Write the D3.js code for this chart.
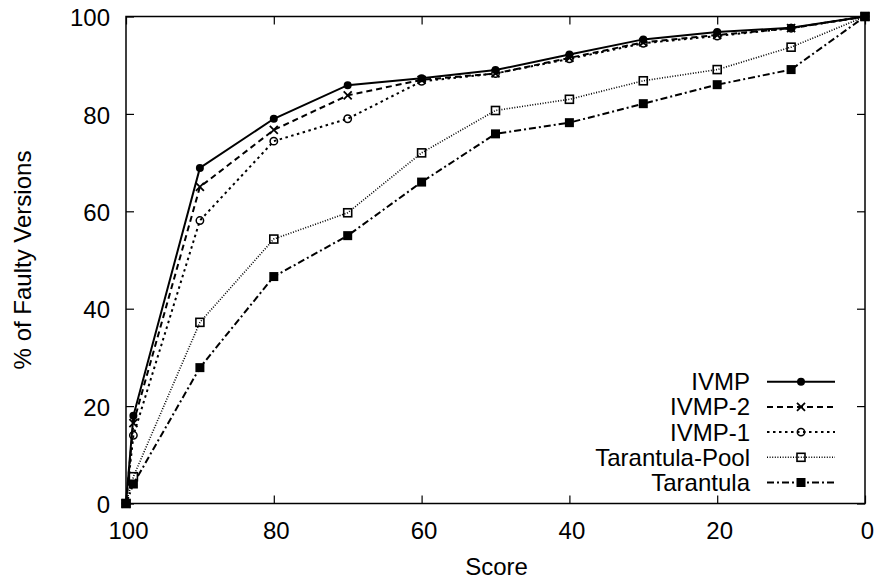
<!DOCTYPE html>
<html>
<head>
<meta charset="utf-8">
<script src="https://cdn.jsdelivr.net/npm/d3@7"></script>
<style>
  html, body { margin: 0; padding: 0; background: #fff; }
  svg text { font-family: "Liberation Sans", Arial, Helvetica, sans-serif; fill: #000; }
</style>
</head>
<body>
<svg id="chart" width="877" height="581"></svg>
<script>
// ---- data ----
const scores = [100, 99, 90, 80, 70, 60, 50, 40, 30, 20, 10, 0];
const ivmp          = [0, 18.0, 68.9, 79.0, 85.9, 87.3, 89.0, 92.2, 95.3, 96.8, 97.7, 100];
const ivmp2         = [0, 16.5, 65.0, 76.7, 83.8, 87.0, 88.3, 91.5, 94.7, 96.2, 97.6, 100];
const ivmp1         = [0, 14.0, 58.1, 74.4, 79.0, 86.7, 88.3, 91.3, 94.5, 96.0, 97.6, 100];
const tarantulaPool = [0, 5.5, 37.2, 54.3, 59.7, 72.0, 80.7, 83.0, 86.8, 89.1, 93.7, 100];
const tarantula     = [0, 4.0, 27.9, 46.6, 55.0, 66.0, 75.9, 78.2, 82.1, 86.0, 89.1, 100];
const seriesNames = ["IVMP", "IVMP-2", "IVMP-1", "Tarantula-Pool", "Tarantula"];
const xTicks = [100, 80, 60, 40, 20, 0];
const yTicks = [0, 20, 40, 60, 80, 100];

const seriesValues = [ivmp, ivmp2, ivmp1, tarantulaPool, tarantula];
const styles = [
  { dash: null,        width: 2,   marker: "fcircle" },
  { dash: "6,4",       width: 2,   marker: "cross" },
  { dash: "2.5,3.5",   width: 2,   marker: "ocircle" },
  { dash: "1,1.6",     width: 1.6, marker: "osquare" },
  { dash: "7,3,2,3",   width: 2,   marker: "fsquare" }
];

const svg = d3.select("#chart");
const L = 126, R = 865, T = 16.5, B = 503.5;
const x = d3.scaleLinear().domain([100, 0]).range([L, R]);
const y = d3.scaleLinear().domain([0, 100]).range([B, T]);
const FS = 24;

// axes (ticks inward, mirrored)
const gB = svg.append("g").attr("transform", `translate(0,${B})`)
  .call(d3.axisBottom(x).tickValues(xTicks).tickSize(-8).tickPadding(18).tickFormat(d3.format("d")));
const gL = svg.append("g").attr("transform", `translate(${L},0)`)
  .call(d3.axisLeft(y).tickValues(yTicks).tickSize(-8).tickPadding(16).tickFormat(d3.format("d")));
const gT = svg.append("g").attr("transform", `translate(0,${T})`)
  .call(d3.axisTop(x).tickValues(xTicks).tickSize(-8).tickFormat(""));
const gR = svg.append("g").attr("transform", `translate(${R},0)`)
  .call(d3.axisRight(y).tickValues(yTicks).tickSize(-8).tickFormat(""));
[gB, gL, gT, gR].forEach(g => {
  g.select(".domain").remove();
  g.selectAll(".tick line").attr("stroke", "#000").attr("stroke-width", 1.2);
  g.selectAll("text").attr("font-size", FS).attr("font-family", null);
});
gB.selectAll("text").attr("dx", 2);
gL.selectAll("text").attr("dy", "0.38em");

// border
svg.append("rect").attr("x", L).attr("y", T).attr("width", R - L).attr("height", B - T)
  .attr("fill", "none").attr("stroke", "#000").attr("stroke-width", 1.5);

// axis titles
svg.append("text").attr("x", (L + R) / 2 + 1).attr("y", 575).attr("text-anchor", "middle")
  .attr("font-size", FS).text("Score");
svg.append("text").attr("transform", `translate(31,${(T + B) / 2}) rotate(-90)`)
  .attr("text-anchor", "middle").attr("font-size", FS).text("% of Faulty Versions");

function drawMarker(g, type, cx, cy) {
  if (type === "fcircle") {
    g.append("circle").attr("cx", cx).attr("cy", cy).attr("r", 4).attr("fill", "#000");
  } else if (type === "cross") {
    const s = 4;
    g.append("path").attr("d", `M${cx - s},${cy - s}L${cx + s},${cy + s}M${cx - s},${cy + s}L${cx + s},${cy - s}`)
      .attr("stroke", "#000").attr("stroke-width", 1.8).attr("fill", "none");
  } else if (type === "ocircle") {
    g.append("circle").attr("cx", cx).attr("cy", cy).attr("r", 3.7).attr("fill", "none")
      .attr("stroke", "#000").attr("stroke-width", 1.5);
  } else if (type === "osquare") {
    g.append("rect").attr("x", cx - 4).attr("y", cy - 4).attr("width", 8).attr("height", 8)
      .attr("fill", "none").attr("stroke", "#000").attr("stroke-width", 1.6);
  } else if (type === "fsquare") {
    g.append("rect").attr("x", cx - 4.5).attr("y", cy - 4.5).attr("width", 9).attr("height", 9)
      .attr("fill", "#000");
  }
}

const line = d3.line().x(d => x(d[0])).y(d => y(d[1]));
seriesValues.forEach((vals, i) => {
  const st = styles[i];
  const pts = scores.map((s, j) => [s, vals[j]]);
  const g = svg.append("g");
  g.append("path").datum(pts).attr("d", line).attr("fill", "none").attr("stroke", "#000")
    .attr("stroke-width", st.width).attr("stroke-dasharray", st.dash);
  pts.forEach(p => drawMarker(g, st.marker, x(p[0]), y(p[1])));
});

// legend
const legY0 = 381.7, legStep = 25.2;
seriesNames.forEach((name, i) => {
  const st = styles[i];
  const cy = legY0 + i * legStep;
  const g = svg.append("g");
  g.append("text").attr("x", 750).attr("y", cy + 8.5).attr("text-anchor", "end")
    .attr("font-size", FS).text(name);
  g.append("line").attr("x1", 767).attr("x2", 835).attr("y1", cy).attr("y2", cy)
    .attr("stroke", "#000").attr("stroke-width", st.width).attr("stroke-dasharray", st.dash);
  drawMarker(g, st.marker, 801, cy);
});
</script>
</body>
</html>
